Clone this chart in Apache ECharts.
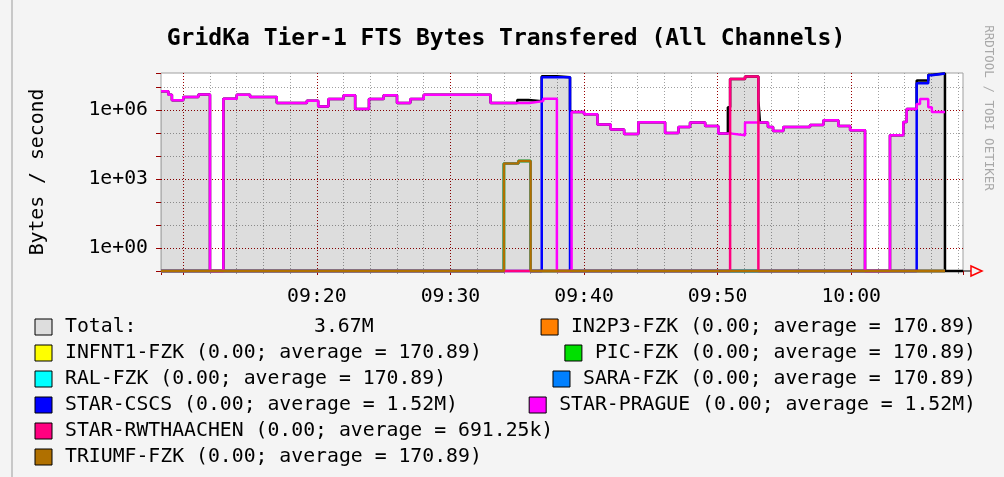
<!DOCTYPE html>
<html>
<head>
<meta charset="utf-8">
<title>GridKa Tier-1 FTS Bytes Transfered</title>
<script src="https://cdn.jsdelivr.net/npm/echarts@6/dist/echarts.min.js"></script>
<style>
    html, body { margin: 0; padding: 0; background: #f4f4f4; }
    #chart { width: 1004px; height: 477px; }
</style>
</head>
<body>
<div id="chart"></div>
<script>
// rrdtool style steps: [time, bytes/s], value holds until the next entry
const startTime = "09:08:20";
const endTime = "10:08:22";

const totalSteps = [
    ["09:08:20", 6.5e6], ["09:08:53", 4.5e6], ["09:09:09", 2.6e6], ["09:10:00", 3.6e6],
    ["09:11:08", 4.6e6], ["09:12:00", 0], ["09:13:00", 3.05e6], ["09:14:00", 4.5e6],
    ["09:15:00", 3.6e6], ["09:17:00", 2.0e6], ["09:19:15", 2.5e6], ["09:20:06", 1.4e6],
    ["09:20:52", 3.0e6], ["09:22:00", 4.3e6], ["09:22:52", 1.1e6], ["09:23:54", 3.0e6],
    ["09:25:00", 4.3e6], ["09:26:00", 2.0e6], ["09:27:00", 3.0e6], ["09:28:00", 4.5e6],
    ["09:33:00", 2.0e6], ["09:35:00", 2.7e6], ["09:35:50", 2.4e6], ["09:36:50", 2.9e7],
    ["09:37:58", 2.6e7], ["09:38:57", 1.0e6], ["09:39:04", 8.0e5], ["09:40:00", 6.5e5],
    ["09:41:00", 2.3e5], ["09:42:00", 1.4e5], ["09:43:00", 9.0e4], ["09:44:04", 2.9e5],
    ["09:46:04", 1.0e5], ["09:47:04", 1.8e5], ["09:47:56", 2.8e5], ["09:49:04", 2.0e5],
    ["09:50:03", 9.3e4], ["09:50:46", 1.3e6], ["09:50:56", 2.2e7], ["09:52:03", 2.8e7],
    ["09:53:03", 2.6e6], ["09:53:10", 2.8e5], ["09:53:46", 1.8e5], ["09:54:09", 1.2e5],
    ["09:54:55", 1.8e5], ["09:56:55", 2.2e5], ["09:57:55", 3.5e5], ["09:59:02", 2.0e5],
    ["09:59:55", 1.3e5], ["10:01:02", 0], ["10:02:54", 7.9e4], ["10:03:54", 3.0e5],
    ["10:04:09", 1.1e6], ["10:04:54", 1.9e7], ["10:05:46", 3.35e7], ["10:06:02", 3.8e7],
    ["10:07:01", 0], ["10:08:22", 0]
];

const pragueSteps = [
    ["09:08:20", 6.5e6], ["09:08:53", 4.5e6], ["09:09:09", 2.6e6], ["09:10:00", 3.6e6],
    ["09:11:08", 4.6e6], ["09:12:00", 0], ["09:13:00", 3.05e6], ["09:14:00", 4.5e6],
    ["09:15:00", 3.6e6], ["09:17:00", 2.0e6], ["09:19:15", 2.5e6], ["09:20:06", 1.4e6],
    ["09:20:52", 3.0e6], ["09:22:00", 4.3e6], ["09:22:52", 1.1e6], ["09:23:54", 3.0e6],
    ["09:25:00", 4.3e6], ["09:26:00", 2.0e6], ["09:27:00", 3.0e6], ["09:28:00", 4.5e6],
    ["09:33:00", 2.0e6], ["09:35:56", 2.4e6], ["09:36:57", 3.05e6], ["09:37:58", 0],
    ["09:39:04", 8.0e5], ["09:40:00", 6.5e5], ["09:41:00", 2.3e5], ["09:42:00", 1.4e5],
    ["09:43:00", 9.0e4], ["09:44:04", 2.9e5], ["09:46:04", 1.0e5], ["09:47:04", 1.8e5],
    ["09:47:56", 2.8e5], ["09:49:04", 2.0e5], ["09:50:03", 9.3e4], ["09:51:04", 7.9e4],
    ["09:52:03", 2.8e5], ["09:53:46", 1.8e5], ["09:54:09", 1.2e5], ["09:54:55", 1.8e5],
    ["09:56:55", 2.2e5], ["09:57:55", 3.5e5], ["09:59:02", 2.0e5], ["09:59:55", 1.3e5],
    ["10:01:02", 0], ["10:02:54", 7.9e4], ["10:03:54", 3.0e5], ["10:04:09", 1.1e6],
    ["10:04:54", 1.8e6], ["10:05:09", 3.0e6], ["10:05:46", 1.3e6], ["10:06:02", 8.0e5],
    ["10:07:01", 8.0e5]
];

const cscsSteps = [
    ["09:08:20", 0], ["09:36:50", 2.6e7], ["09:38:57", 0], ["10:04:54", 1.45e7],
    ["10:05:46", 3.2e7], ["10:06:02", 3.8e7], ["10:07:01", 3.8e7]
];

const rwthSteps = [
    ["09:08:20", 0], ["09:50:56", 2.2e7], ["09:52:03", 2.8e7], ["09:53:03", 0], ["10:07:01", 0]
];

// all *-FZK channels report the same average, TRIUMF is drawn last and covers the rest
const fzkSteps = [
    ["09:08:20", 0], ["09:34:00", 4.7e3], ["09:35:05", 6.0e3], ["09:36:00", 0], ["10:07:01", 0]
];

const channels = [
    "IN2P3-FZK", "INFNT1-FZK", "PIC-FZK", "RAL-FZK", "SARA-FZK",
    "STAR-CSCS", "STAR-PRAGUE", "STAR-RWTHAACHEN", "TRIUMF-FZK"
];
const channelSteps = [
    fzkSteps, fzkSteps, fzkSteps, fzkSteps, fzkSteps,
    cscsSteps, pragueSteps, rwthSteps, fzkSteps
];
const channelLast = ["0.00", "0.00", "0.00", "0.00", "0.00", "0.00", "0.00", "0.00", "0.00"];
const channelAvg = ["170.89", "170.89", "170.89", "170.89", "170.89", "1.52M", "1.52M", "691.25k", "170.89"];
const totalLast = "3.67M";

const xLabels = ["09:20", "09:30", "09:40", "09:50", "10:00"];
const yLabelExp = [0, 3, 6];
const yLabels = ["1e+00", "1e+03", "1e+06"];

const channelColors = [
    "#ff7f00", "#ffff00", "#00e000", "#00ffff", "#0080ff",
    "#0000ff", "#ff00ff", "#ff0080", "#b07000"
];

const FONT = '"DejaVu Sans Mono", monospace';
const FS = 19.8;
const FLOOR = 0.1; // zero is drawn on the bottom of the log axis

function toMin(s) {
    const [h, m, sec] = s.split(":").map(Number);
    return (h - 9) * 60 + m + sec / 60;
}
function toData(steps) {
    return steps.map(([t, v]) => [toMin(t), v > 0 ? v : FLOOR]);
}
function fmtTime(v) {
    const total = Math.round(v);
    const h = 9 + Math.floor(total / 60);
    const m = total % 60;
    return (h < 10 ? "0" : "") + h + ":" + (m < 10 ? "0" : "") + m;
}

// legend built as graphic, rrdtool layout
const measure = document.createElement("canvas").getContext("2d");
measure.font = FS + "px " + FONT;
const legendGraphics = [];
function legendItem(label, color, x, y, alignRight) {
    const w = measure.measureText(label).width;
    const textX = alignRight ? x - w : x;
    legendGraphics.push({
        type: "rect",
        shape: { x: textX - 30, y: y - 8, width: 17, height: 16 },
        style: { fill: color, stroke: "#000", lineWidth: 1 },
    });
    legendGraphics.push({
        type: "text",
        style: { text: label, x: textX, y: y, font: FS + "px " + FONT, fill: "#000", textVerticalAlign: "middle" },
    });
}
const rowY = [327, 353, 379, 405, 431, 457];
const labels = channels.map((c, i) => c + " (" + channelLast[i] + "; average = " + channelAvg[i] + ")");
legendItem("Total:", "#dddddd", 65, rowY[0], false);
legendGraphics.push({
    type: "text",
    style: { text: totalLast, x: 314, y: rowY[0], font: FS + "px " + FONT, fill: "#000", textVerticalAlign: "middle" },
});
legendItem(labels[0], channelColors[0], 976, rowY[0], true);
legendItem(labels[1], channelColors[1], 65, rowY[1], false);
legendItem(labels[2], channelColors[2], 976, rowY[1], true);
legendItem(labels[3], channelColors[3], 65, rowY[2], false);
legendItem(labels[4], channelColors[4], 976, rowY[2], true);
legendItem(labels[5], channelColors[5], 65, rowY[3], false);
legendItem(labels[6], channelColors[6], 976, rowY[3], true);
legendItem(labels[7], channelColors[7], 65, rowY[4], false);
legendItem(labels[8], channelColors[8], 65, rowY[5], false);

const series = [{
    name: "Total",
    type: "line",
    step: "end",
    data: toData(totalSteps),
    showSymbol: false,
    clip: false,
    lineStyle: { color: "#000", width: 2.5 },
    areaStyle: { color: "rgba(0,0,0,0.135)", opacity: 1, origin: "start" },
}];
channels.forEach((name, i) => {
    series.push({
        name: name,
        type: "line",
        step: "end",
        data: toData(channelSteps[i]),
        showSymbol: false,
        clip: false,
        lineStyle: { color: channelColors[i], width: 2.5 },
    });
});

const chart = echarts.init(document.getElementById("chart"));
chart.setOption({
    animation: false,
    backgroundColor: "#f4f4f4",
    textStyle: { fontFamily: FONT },
    grid: {
        left: 161, right: 41, top: 73, bottom: 206,
        show: true, backgroundColor: "#fff", borderColor: "#a0a0a0", borderWidth: 1,
    },
    xAxis: {
        type: "value",
        min: toMin(startTime),
        max: toMin(endTime),
        splitNumber: 6,
        axisLine: { show: true, lineStyle: { color: "#000" } },
        axisTick: { show: true, length: 4, lineStyle: { color: "#990000" } },
        minorTick: { show: true, splitNumber: 5, length: 3, lineStyle: { color: "#999" } },
        axisLabel: {
            showMinLabel: false, showMaxLabel: false, margin: 16,
            fontFamily: FONT, fontSize: FS, color: "#000",
            formatter: (v) => (xLabels.indexOf(fmtTime(v)) >= 0 ? fmtTime(v) : ""),
        },
        splitLine: {
            show: true, showMinLine: false, showMaxLine: false,
            lineStyle: { color: "#990000", type: [1, 2], width: 1 },
        },
        minorSplitLine: { show: true, lineStyle: { color: "#a0a0a0", type: [1, 2], width: 1 } },
    },
    yAxis: {
        type: "log",
        logBase: 10,
        min: 0.1,
        max: 4e7,
        name: "Bytes / second",
        nameLocation: "middle",
        nameRotate: 90,
        nameGap: 113,
        nameTextStyle: { fontFamily: FONT, fontSize: FS, color: "#000" },
        axisLine: { show: false },
        axisTick: { show: true, length: 5, lineStyle: { color: "#990000" } },
        axisLabel: {
            margin: 13, fontFamily: FONT, fontSize: FS, color: "#000",
            formatter: (v) => {
                const e = Math.log10(v);
                const i = yLabelExp.indexOf(Math.round(e));
                return Math.abs(e - Math.round(e)) < 1e-6 && i >= 0 ? yLabels[i] : "";
            },
        },
        splitLine: {
            show: true, showMinLine: false, showMaxLine: false,
            lineStyle: { color: ["#990000", "#a0a0a0", "#a0a0a0"], type: [1, 2], width: 1 },
        },
    },
    graphic: [
        {
            type: "text",
            style: {
                text: "GridKa Tier-1 FTS Bytes Transfered (All Channels)",
                x: 506, y: 39, font: "bold 23px " + FONT, fill: "#000",
                textAlign: "center", textVerticalAlign: "middle",
            },
        },
        {
            type: "text",
            rotation: -Math.PI / 2,
            x: 988, y: 108,
            style: {
                text: "RRDTOOL / TOBI OETIKER", x: 0, y: 0,
                font: "12.5px " + FONT, fill: "#a8a8a8",
                textAlign: "center", textVerticalAlign: "middle",
            },
        },
        { type: "line", shape: { x1: 12, y1: 0, x2: 12, y2: 477 }, style: { stroke: "#c8c8c8", lineWidth: 2 } },
        { type: "line", shape: { x1: 963, y1: 271, x2: 971, y2: 271 }, style: { stroke: "#000", lineWidth: 1 } },
        {
            type: "polygon",
            shape: { points: [[971, 266], [982, 271], [971, 276]] },
            style: { fill: "none", stroke: "#ff0000", lineWidth: 1.5 },
        },
    ].concat(legendGraphics),
    series: series,
});
</script>
</body>
</html>
